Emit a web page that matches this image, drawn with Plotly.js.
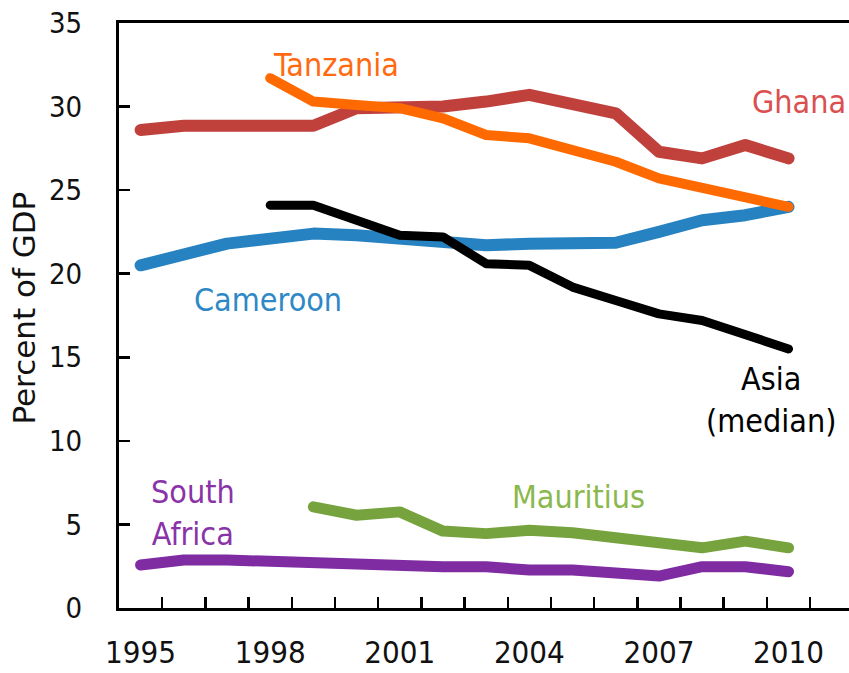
<!DOCTYPE html>
<html>
<head>
<meta charset="utf-8">
<script src="https://cdn.plot.ly/plotly-3.0.1.min.js"></script>
<style>
  html, body { margin: 0; padding: 0; background: #fff; }
  #chart { width: 849px; height: 673px; }
  .js-line { stroke-linecap: round; stroke-linejoin: round; }
</style>
</head>
<body>
<div id="chart"></div>
<script>
const years = [1995, 1996, 1997, 1998, 1999, 2000, 2001, 2002, 2003, 2004, 2005, 2006, 2007, 2008, 2009, 2010];
const ghana = [28.6, 28.85, 28.85, 28.85, 28.85, 29.9, 29.9, 30.0, 30.3, 30.7, 30.15, 29.6, 27.3, 26.9, 27.7, 26.9];
const tanzania = [null, null, null, 31.7, 30.3, 30.1, 29.9, 29.3, 28.3, 28.1, 27.4, 26.7, 25.7, 25.1, 24.5, 24.0];
const cameroon = [20.5, 21.2, 21.8, 22.1, 22.4, 22.3, 22.1, 21.95, 21.7, 21.8, 21.9, 21.85, 22.5, 23.2, 23.5, 24.0];
const asiaMedian = [null, null, null, 24.1, 24.1, 23.2, 22.3, 22.2, 20.6, 20.5, 19.2, 18.4, 17.6, 17.2, 16.3, 15.5];
const mauritius = [null, null, null, null, 6.05, 5.55, 5.75, 4.6, 4.45, 4.65, 4.5, 4.15, 3.8, 3.6, 4.0, 3.6];
const southAfrica = [2.57, 2.87, 2.87, 2.77, 2.77, 2.57, 2.47, 2.47, 2.47, 2.27, 2.27, 2.1, 1.91, 2.47, 2.47, 2.17];

const xLabelYears = [1995, 1998, 2001, 2004, 2007, 2010];
const xBoundaryTicks = [1995.5, 1996.5, 1997.5, 1998.5, 1999.5, 2000.5, 2001.5, 2002.5, 2003.5, 2004.5, 2005.5, 2006.5, 2007.5, 2008.5, 2009.5, 2010.5];
const yTicks = [0, 5, 10, 15, 20, 25, 30, 35];

const narrow = '"Liberation Sans Narrow", "DejaVu Sans Condensed", sans-serif';

function line(y, color, width) {
  return { x: years, y: y, type: 'scatter', mode: 'lines', connectgaps: false,
           line: { color: color, width: width }, hoverinfo: 'skip', showlegend: false };
}

const data = [
  line(southAfrica, '#7F2BA1', 11),
  line(mauritius, '#76A33E', 11),
  line(cameroon, '#2682C0', 12),
  line(asiaMedian, '#000000', 9),
  line(ghana, '#C0403C', 12),
  line(tanzania, '#FF6A00', 10),
  { x: [1995], y: [null], type: 'scatter', xaxis: 'x2', yaxis: 'y', showlegend: false, hoverinfo: 'skip' }
];

const xr = [1994.5, 2011.4];

const layout = {
  width: 849, height: 673,
  margin: { l: 119, r: 0, t: 23, b: 65 },
  paper_bgcolor: '#fff', plot_bgcolor: '#fff',
  showlegend: false,
  xaxis: {
    range: xr, showgrid: false, zeroline: false,
    showline: true, linecolor: '#000', linewidth: 3, mirror: true,
    tickvals: xLabelYears, ticktext: xLabelYears.map(String),
    ticks: '', ticklabelstandoff: 15,
    tickfont: { family: narrow, size: 31, color: '#111' }
  },
  xaxis2: {
    range: xr, overlaying: 'x', anchor: 'y', side: 'bottom',
    showgrid: false, zeroline: false, showline: false,
    tickvals: xBoundaryTicks, ticks: 'inside', ticklen: 11, tickwidth: 2.5, tickcolor: '#000',
    showticklabels: false
  },
  yaxis: {
    range: [0, 35], showgrid: false, zeroline: false,
    showline: true, linecolor: '#000', linewidth: 3,
    tickvals: yTicks, ticks: 'inside', ticklen: 11, tickwidth: 2.5, tickcolor: '#000',
    ticklabelstandoff: 28,
    tickfont: { family: narrow, size: 29, color: '#111' }
  },
  annotations: [
    { text: 'Percent of GDP', xref: 'paper', yref: 'paper', x: -0.13, y: 0.512, xanchor: 'center', yanchor: 'middle',
      textangle: -90, showarrow: false, font: { family: '"DejaVu Sans", sans-serif', size: 31, color: '#111' } },
    { text: 'Tanzania', xref: 'x', yref: 'y', x: 1998.02, y: 32.46, xanchor: 'left', yanchor: 'middle', showarrow: false,
      font: { family: narrow, size: 32, color: '#FF6A10' } },
    { text: 'Ghana', xref: 'x', yref: 'y', x: 2011.37, y: 30.27, xanchor: 'right', yanchor: 'middle', showarrow: false,
      font: { family: narrow, size: 32, color: '#DB4F4F' } },
    { text: 'Cameroon', xref: 'x', yref: 'y', x: 1996.19, y: 18.43, xanchor: 'left', yanchor: 'middle', showarrow: false,
      font: { family: narrow, size: 32, color: '#2E88C6' } },
    { text: 'Asia<br>(median)', xref: 'x', yref: 'y', x: 2009.59, y: 12.44, xanchor: 'center', yanchor: 'middle', align: 'center', showarrow: false,
      font: { family: narrow, size: 32, color: '#000' } },
    { text: 'South<br>Africa', xref: 'x', yref: 'y', x: 1996.21, y: 5.68, xanchor: 'center', yanchor: 'middle', align: 'center', showarrow: false,
      font: { family: narrow, size: 32, color: '#8A33A8' } },
    { text: 'Mauritius', xref: 'x', yref: 'y', x: 2003.55, y: 6.64, xanchor: 'left', yanchor: 'middle', showarrow: false,
      font: { family: narrow, size: 32, color: '#8AB84C' } }
  ]
};

Plotly.newPlot('chart', data, layout, { staticPlot: true, displayModeBar: false });
</script>
</body>
</html>
